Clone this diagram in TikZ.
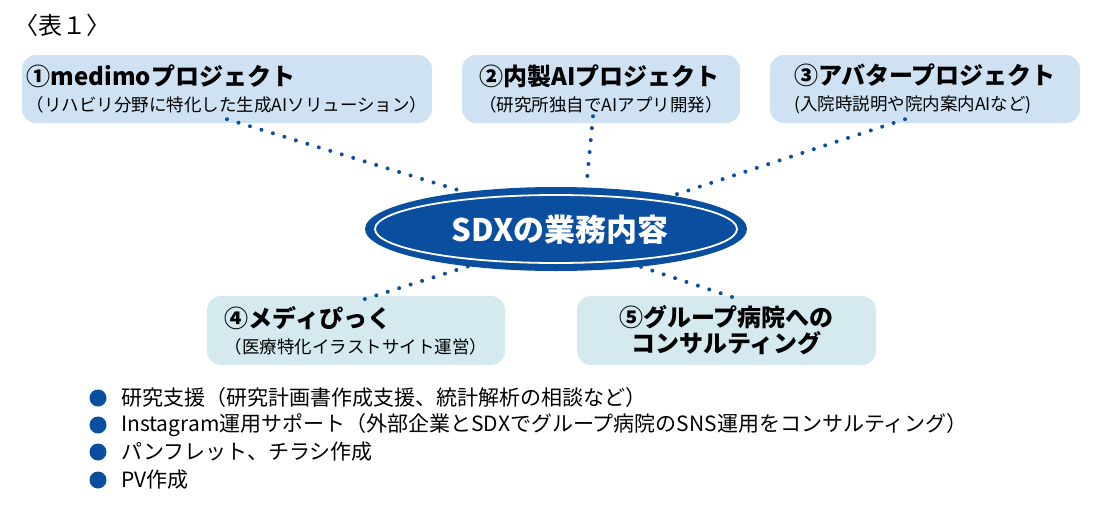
\documentclass[tikz,border=0pt]{standalone}
\usepackage{fontspec}
\setmainfont{Noto Sans CJK JP}
\usetikzlibrary{shapes.geometric}
\definecolor{hubblue}{HTML}{0A4EA0}
\definecolor{dotblue}{HTML}{0C4F9E}
\definecolor{topfill}{HTML}{CFE2F3}
\definecolor{lowfill}{HTML}{D4EAEE}
\newcommand\boxhead[1]{{\fontsize{24}{27}\selectfont\bfseries #1}}
\newcommand\boxnote[1]{{\fontsize{17.5}{26}\selectfont #1}}
\tikzset{
  topbox/.style={fill=topfill, rounded corners=14pt, minimum height=68pt, inner sep=0pt, align=left, font=\fontsize{17.5}{26}\selectfont},
  lowbox/.style={fill=lowfill, rounded corners=14pt, minimum height=69pt, inner sep=0pt, font=\fontsize{17.5}{26}\selectfont},
  hub/.style={ellipse, fill=hubblue, minimum width=382pt, minimum height=84pt, inner sep=0pt, text=white, font=\bfseries\fontsize{31}{34}\selectfont},
  hubring/.style={ellipse, draw=white, line width=1.8pt, minimum width=362pt, minimum height=68pt, inner sep=0pt},
  dotline/.style={draw=dotblue, line width=4pt, line cap=round, dash pattern=on 0pt off 12pt},
  bulletdot/.style={circle, fill=hubblue, minimum size=17pt, inner sep=0pt},
  bullettext/.style={anchor=west, inner sep=0pt, font=\fontsize{21}{24}\selectfont},
}

\begin{document}
\begin{tikzpicture}[x=1pt, y=-1pt]
\useasboundingbox (0,0) rectangle (1117,504);
% caption
\node[anchor=west, inner sep=0pt, font=\fontsize{24}{28}\selectfont] (caption) at (14,25) {〈表１〉};
% project boxes
\node[topbox, minimum width=410pt] (m1) at (227,89) {\boxhead{①medimoプロジェクト}\\\boxnote{（リハビリ分野に特化した生成AIソリューション）}};
\node[topbox, minimum width=278pt] (m2) at (601,89) {\boxhead{②内製AIプロジェクト}\\\boxnote{（研究所独自でAIアプリ開発）}};
\node[topbox, minimum width=310pt] (m3) at (925,89) {\boxhead{③アバタープロジェクト}\\\boxnote{(入院時説明や院内案内AIなど)}};
\node[lowbox, minimum width=298pt, align=left] (m4) at (356,330.5) {\boxhead{④メディぴっく}\\\boxnote{（医療特化イラストサイト運営）}};
\node[lowbox, minimum width=299pt, align=center] (m5) at (726.5,330.5) {\boxhead{⑤グループ病院への}\\\boxhead{コンサルティング}};
% hub
\node[hub] (hub) at (556,229) {};
\node[hubring] (ring) at (556,229) {};
\node[text=white, font=\bfseries\fontsize{31}{34}\selectfont] (hubtext) at (560,230) {SDXの業務内容};
% dotted links
\draw[dotline] ([yshift=4pt]m1.south) -- (hub.158);
\draw[dotline] ([xshift=-8pt,yshift=7pt]m2.south) -- (hub.54);
\draw[dotline] ([xshift=-20pt,yshift=4pt]m3.south) -- (hub.16);
\draw[dotline] (hub.203) -- ([yshift=-6pt]m4.north);
\draw[dotline] (hub.336) -- ([xshift=8pt,yshift=-2pt]m5.north);
% list
\node[bulletdot] (b1) at (98,398) {};
\node[bulletdot] (b2) at (98,425) {};
\node[bulletdot] (b3) at (98,452) {};
\node[bulletdot] (b4) at (98,480) {};
\node[bullettext] (t1) at (121,398) {研究支援（研究計画書作成支援、統計解析の相談など）};
\node[bullettext] (t2) at (121,425) {Instagram運用サポート（外部企業とSDXでグループ病院のSNS運用をコンサルティング）};
\node[bullettext] (t3) at (121,452) {パンフレット、チラシ作成};
\node[bullettext] (t4) at (121,480) {PV作成};
\end{tikzpicture}
\end{document}
